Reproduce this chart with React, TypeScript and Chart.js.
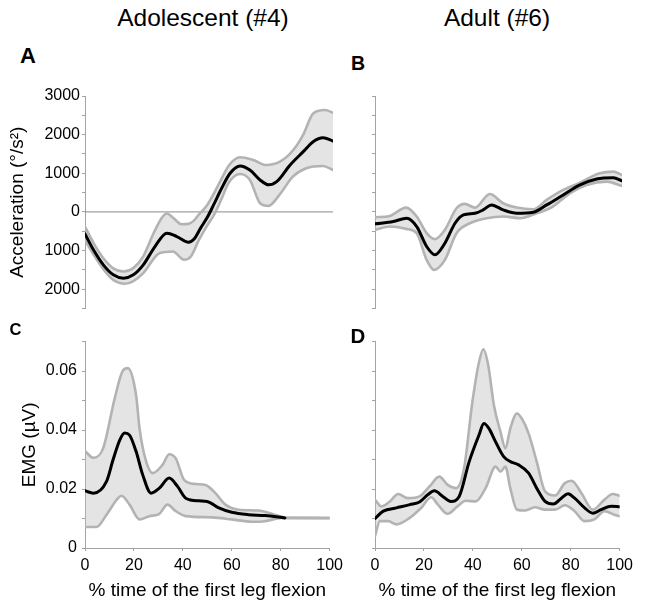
import React, { useEffect, useRef } from 'react';
import { Chart, registerables } from 'chart.js';

Chart.register(...registerables);

type Pt = [number, number];

// ---------- Data (x = % time of the first leg flexion) ----------
// Panel A: Adolescent (#4) acceleration (°/s²)
const accAdolMean: Pt[] = [
  [0, -570], [3.4, -980], [7.4, -1370], [11.4, -1628], [15.5, -1715], [19.5, -1628],
  [23.5, -1370], [28.2, -896], [33, -550], [37, -637], [41.7, -783], [44, -700],
  [46.6, -420], [49.5, -120], [52, 200], [55, 600], [58.5, 1000], [62.5, 1190], [66.5, 1085],
  [70.6, 827], [74, 700], [77.3, 784], [82.7, 1214], [88, 1560], [92, 1818],
  [96, 1920], [100, 1835],
];
const accAdolUpper: Pt[] = [
  [0, -380], [3.4, -800], [7.4, -1200], [11.4, -1460], [15.5, -1542], [19.5, -1450],
  [23.5, -1150], [27.6, -560], [31, -150], [33, -40], [35.5, -150], [39, -320],
  [41.7, -310], [44, -220], [46, -60], [49, 150], [52, 480], [55, 850], [58, 1200],
  [62.5, 1413], [67.8, 1343], [73.2, 1214], [78.6, 1300], [84, 1602], [88, 2000],
  [92, 2550], [96.8, 2636], [100, 2566],
];
const accAdolLower: Pt[] = [
  [0, -723], [3.4, -1100], [7.4, -1480], [11.4, -1760], [16.2, -1860], [19.5, -1790],
  [23.5, -1585], [30, -1068], [35.4, -1025], [40, -1240], [42.7, -1154], [46, -720],
  [49, -380], [52, -80], [55, 330], [58, 760], [62.5, 982], [66.5, 827], [70.6, 224], [74, 155],
  [78.4, 440], [83.8, 912], [89.2, 1129], [96, 1189], [100, 1085],
];
const zeroLine: Pt[] = [[0, 0], [100, 0]];

// Panel B: Adult (#6) acceleration (°/s²)
const accAdultMean: Pt[] = [
  [0, -310], [7.4, -250], [12.8, -163], [16.9, -379], [20.9, -896], [24.3, -1111],
  [28.3, -810], [32.4, -293], [35.8, -78], [40.5, -34], [43.8, 52], [47.2, 181],
  [51.9, 52], [57.4, -34], [64.1, -8], [69.5, 181], [76.2, 439], [83, 698],
  [89.7, 853], [96.5, 887], [100, 801],
];
const accAdultUpper: Pt[] = [
  [0, -138], [6, -103], [12.6, 112], [16.9, -120], [20.9, -551], [24.3, -706],
  [28.3, -465], [33, 95], [36.4, 207], [40.5, 112], [46.5, 465], [51.9, 224],
  [57.4, 112], [64.1, 69], [69.5, 310], [76.2, 568], [83, 758], [91, 1000],
  [96.5, 1042], [100, 956],
];
const accAdultLower: Pt[] = [
  [0, -465], [6, -379], [12.6, -439], [16.9, -551], [20.9, -1240], [23.9, -1499],
  [28.3, -1240], [33, -551], [38.4, -293], [45.2, -163], [51.9, -120], [58.8, -163],
  [65.5, -34], [70.9, 95], [78.9, 482], [85.7, 698], [93.8, 784], [100, 672],
];

// Panel C: Adolescent (#4) EMG (µV)
const emgAdolMean: Pt[] = [
  [0, 0.0194], [3.4, 0.0186], [8.8, 0.0226], [11.5, 0.030], [14.2, 0.0366], [16.2, 0.039],
  [18.2, 0.0383], [20.9, 0.0327], [23.6, 0.0248], [27, 0.0186], [30.4, 0.0203],
  [34.4, 0.0237], [37.8, 0.0209], [41.2, 0.0169], [46.6, 0.016], [49.9, 0.0158],
  [54.7, 0.0136], [60, 0.0121], [66.8, 0.0113], [73.6, 0.011], [81.7, 0.0102],
];
const emgAdolUpper: Pt[] = [
  [0, 0.0329], [3.4, 0.0306], [7.4, 0.0338], [12.1, 0.0506], [15.5, 0.0602], [17.5, 0.061],
  [20.9, 0.0517], [22.3, 0.0405], [25, 0.0293], [27.7, 0.0254], [31.7, 0.0282],
  [34.4, 0.0318], [37.1, 0.0304], [40.5, 0.0231], [45.2, 0.0217], [49.3, 0.0214],
  [53.3, 0.0186], [57.4, 0.0147], [62.8, 0.013], [70.9, 0.0127], [77.6, 0.0113],
  [83, 0.0102], [100, 0.0102],
];
const emgAdolLower: Pt[] = [
  [0, 0.0071], [4.7, 0.0071], [8.8, 0.0113], [13.5, 0.0169], [14.9, 0.0177], [18.2, 0.0147],
  [22.3, 0.0097], [26.3, 0.0108], [30.4, 0.0116], [33.7, 0.0147], [37.1, 0.0125],
  [41.2, 0.0108], [52, 0.0104], [60, 0.0097], [68.2, 0.0089], [73.6, 0.0091],
  [80.3, 0.0102], [100, 0.0101],
];

// Panel D: Adult (#6) EMG (µV)
const emgAdultMean: Pt[] = [
  [0, 0.01], [3.4, 0.0125], [8.8, 0.0136], [14.2, 0.0147], [18.2, 0.0156], [21.6, 0.0181],
  [24.3, 0.0194], [27.7, 0.0175], [31, 0.0158], [34.4, 0.0175], [38.5, 0.0293],
  [42.5, 0.0383], [44.5, 0.0422], [46.6, 0.0405], [49.3, 0.036], [52.6, 0.031],
  [55.3, 0.0293], [58.7, 0.0282], [62.8, 0.0254], [66.1, 0.0203], [69.5, 0.0158],
  [72.9, 0.0149], [76.2, 0.0169], [78.9, 0.0184], [81.6, 0.0169], [85.7, 0.0136],
  [89, 0.0118], [92.4, 0.013], [96.5, 0.0142], [100, 0.014],
];
const emgAdultUpper: Pt[] = [
  [0, 0.0164], [2.7, 0.0141], [6.1, 0.0158], [9.4, 0.0183], [13.5, 0.0169], [18.2, 0.0175],
  [22.3, 0.0209], [26.3, 0.0242], [29.7, 0.0214], [33.1, 0.0203], [36.4, 0.027],
  [39.8, 0.0495], [42.5, 0.063], [44.3, 0.0674], [46.3, 0.0619], [48.6, 0.0484],
  [51.3, 0.0394], [53.3, 0.0338], [55.3, 0.0405], [58, 0.0456], [60, 0.0439],
  [62.8, 0.0388], [66.1, 0.0293], [69.5, 0.0192], [73.6, 0.0178], [77.6, 0.022],
  [80.3, 0.0228], [84.4, 0.0186], [89, 0.013], [93.8, 0.0164], [97.2, 0.0183], [100, 0.0177],
];
const emgAdultLower: Pt[] = [
  [0, 0.004], [2, 0.0091], [5.4, 0.0091], [8.8, 0.008], [14.2, 0.0102], [18.9, 0.0136],
  [23, 0.0172], [25.7, 0.0147], [29.7, 0.0116], [33.7, 0.0141], [37.1, 0.016],
  [41.2, 0.0158], [45.2, 0.0203], [49.3, 0.0276], [51.3, 0.0259], [53.3, 0.0276],
  [55.3, 0.0203], [58, 0.013], [61.4, 0.0127], [65.4, 0.0138], [69.5, 0.013],
  [73.6, 0.013], [77.6, 0.0145], [81.6, 0.0125], [85.7, 0.0091], [89.7, 0.0097],
  [93.8, 0.0125], [97.8, 0.0113], [100, 0.0108],
];

// Axis ticks / labels
const xTicks = [0, 20, 40, 60, 80, 100];
const accRange = { min: -2500, max: 3000, step: 500, labelEvery: 1000 };
const emgRange = { min: 0, max: 0.07, step: 0.01 };
const columnTitles = ['Adolescent (#4)', 'Adult (#6)'];
const panelLetters = ['A', 'B', 'C', 'D'];
const accTitle = 'Acceleration (°/s²)';
const emgTitle = 'EMG (µV)';
const xTitle = '% time of the first leg flexion';

// ---------- Styles ----------
const FONT = '"Liberation Sans", Arial, Helvetica, sans-serif';
const AXIS_GRAY = '#a3a3a3';
const BOUND_GRAY = '#b3b3b3';
const BAND_FILL = 'rgba(190,190,190,0.42)';

type PanelDef = {
  key: string;
  left: number; top: number; width: number; height: number;
  padTop: number; padRight: number; padBottom: number;
  yAxisWidth: number;
  kind: 'acc' | 'emg';
  showYLabels: boolean;
  yTitle?: string;
  yTitlePad?: number;
  yTickPad: number;
  showX: boolean;
  mean: Pt[]; upper: Pt[]; lower: Pt[];
  zero?: boolean;
};

const panels: PanelDef[] = [
  {
    key: 'A', left: 0, top: 84, width: 345, height: 237, padTop: 12, padRight: 12, padBottom: 12.5,
    yAxisWidth: 85, kind: 'acc', showYLabels: true, yTitle: accTitle, yTitlePad: 6, yTickPad: 2,
    showX: false, mean: accAdolMean, upper: accAdolUpper, lower: accAdolLower, zero: true,
  },
  {
    key: 'B', left: 355, top: 84, width: 281, height: 237, padTop: 12, padRight: 14, padBottom: 12.5,
    yAxisWidth: 20, kind: 'acc', showYLabels: false, yTickPad: 2,
    showX: false, mean: accAdultMean, upper: accAdultUpper, lower: accAdultLower,
  },
  {
    key: 'C', left: 0, top: 326.5, width: 348, height: 278.5, padTop: 12, padRight: 16, padBottom: 0,
    yAxisWidth: 85, kind: 'emg', showYLabels: true, yTitle: emgTitle, yTitlePad: 18, yTickPad: 5,
    showX: true, mean: emgAdolMean, upper: emgAdolUpper, lower: emgAdolLower,
  },
  {
    key: 'D', left: 355, top: 326.5, width: 283, height: 278.5, padTop: 12, padRight: 16, padBottom: 0,
    yAxisWidth: 20, kind: 'emg', showYLabels: false, yTickPad: 5,
    showX: true, mean: emgAdultMean, upper: emgAdultUpper, lower: emgAdultLower,
  },
];

const toXY = (arr: Pt[]) => arr.map(([x, y]) => ({ x, y }));

function accLabel(v: number): string {
  const r = Math.round(v);
  return r % accRange.labelEvery === 0 ? String(Math.abs(r)) : '';
}
function emgLabel(v: number): string {
  const h = Math.round(v * 100);
  if (h % 2 !== 0 || h > 6) return '';
  return h === 0 ? '0' : (h / 100).toFixed(2);
}

function buildChart(canvas: HTMLCanvasElement, p: PanelDef): Chart {
  const datasets: any[] = [
    { label: 'mean', data: toXY(p.mean), borderColor: '#000', borderWidth: 3, order: 0, fill: false },
    { label: 'upper', data: toXY(p.upper), borderColor: BOUND_GRAY, borderWidth: 2.6, order: 1, fill: false },
    { label: 'lower', data: toXY(p.lower), borderColor: BOUND_GRAY, borderWidth: 2.6, order: 2, fill: false },
    {
      label: 'band', data: toXY(p.upper), borderColor: 'rgba(0,0,0,0)', borderWidth: 0, order: 3,
      fill: { target: 2 }, backgroundColor: BAND_FILL,
    },
  ];
  if (p.zero) {
    datasets.push({
      label: 'zero', data: toXY(zeroLine), borderColor: '#8a8a8a', borderWidth: 1, order: 4,
      fill: false, cubicInterpolationMode: 'default', tension: 0,
    });
  }
  const range = p.kind === 'acc' ? accRange : emgRange;

  return new Chart(canvas, {
    type: 'line',
    data: { datasets },
    options: {
      animation: false,
      responsive: false,
      maintainAspectRatio: false,
      events: [],
      layout: { padding: { top: p.padTop, right: p.padRight, bottom: p.padBottom, left: 0 } },
      plugins: {
        legend: { display: false },
        tooltip: { enabled: false },
        title: { display: false },
      },
      elements: {
        point: { radius: 0, hoverRadius: 0 },
        line: { cubicInterpolationMode: 'monotone', borderCapStyle: 'round', borderJoinStyle: 'round' },
      },
      scales: {
        x: {
          type: 'linear',
          min: 0,
          max: 100,
          display: p.showX,
          afterBuildTicks: (s: any) => { s.ticks = xTicks.map((v) => ({ value: v })); },
          afterFit: (s: any) => { if (p.showX) s.height = 58; },
          ticks: {
            autoSkip: false, maxRotation: 0, minRotation: 0, padding: 5, color: '#000',
            font: { family: FONT, size: 16 },
            callback: (v: any) => String(v),
          },
          grid: { display: true, drawOnChartArea: false, drawTicks: true, tickLength: 3, color: AXIS_GRAY },
          border: { display: true, color: AXIS_GRAY, width: 1 },
          title: {
            display: true, text: xTitle, color: '#000',
            font: { family: FONT, size: 19 }, padding: { top: 0, bottom: 4 },
          },
        },
        y: {
          type: 'linear',
          min: range.min,
          max: range.max,
          afterFit: (s: any) => { s.width = p.yAxisWidth; },
          ticks: {
            stepSize: range.step, autoSkip: false, padding: p.yTickPad, color: '#000',
            font: { family: FONT, size: 16 },
            callback: (v: any) => {
              if (!p.showYLabels) return '';
              return p.kind === 'acc' ? accLabel(Number(v)) : emgLabel(Number(v));
            },
          },
          grid: { display: true, drawOnChartArea: false, drawTicks: true, tickLength: 3, color: AXIS_GRAY },
          border: { display: true, color: AXIS_GRAY, width: 1 },
          title: {
            display: !!p.yTitle, text: p.yTitle || '', color: '#000',
            font: { family: FONT, size: 19 }, padding: { top: p.yTitlePad || 0, bottom: 0 },
          },
        },
      },
    } as any,
  });
}

const letterStyles: React.CSSProperties[] = [
  { left: 20, top: 44.5, fontSize: 22 },
  { left: 351, top: 53.5, fontSize: 19.5 },
  { left: 9.5, top: 321, fontSize: 16.5 },
  { left: 350.5, top: 325.5, fontSize: 20.5 },
];
const titleCenters = [203, 497];

export default function App() {
  const refs = [useRef<HTMLCanvasElement>(null), useRef<HTMLCanvasElement>(null),
    useRef<HTMLCanvasElement>(null), useRef<HTMLCanvasElement>(null)];

  useEffect(() => {
    const charts: Chart[] = [];
    panels.forEach((p, i) => {
      const c = refs[i].current;
      if (c) charts.push(buildChart(c, p));
    });
    return () => { charts.forEach((ch) => ch.destroy()); };
  }, []);

  return (
    <div style={{ position: 'fixed', left: 0, top: 0, width: 646, height: 605, background: '#fff', overflow: 'hidden', fontFamily: FONT }}>
      {panels.map((p, i) => (
        <canvas
          key={p.key}
          ref={refs[i]}
          width={p.width}
          height={Math.round(p.height)}
          style={{ position: 'absolute', left: p.left, top: p.top, width: p.width, height: Math.round(p.height) }}
        />
      ))}
      {columnTitles.map((t, i) => (
        <div key={t} style={{
          position: 'absolute', top: 6.3, left: titleCenters[i] - 150, width: 300, textAlign: 'center',
          fontSize: 24.5, lineHeight: 1, color: '#000', whiteSpace: 'nowrap',
        }}>{t}</div>
      ))}
      {panelLetters.map((l, i) => (
        <div key={l} style={{
          position: 'absolute', ...letterStyles[i], lineHeight: 1, fontWeight: 'bold', color: '#000',
        }}>{l}</div>
      ))}
    </div>
  );
}
